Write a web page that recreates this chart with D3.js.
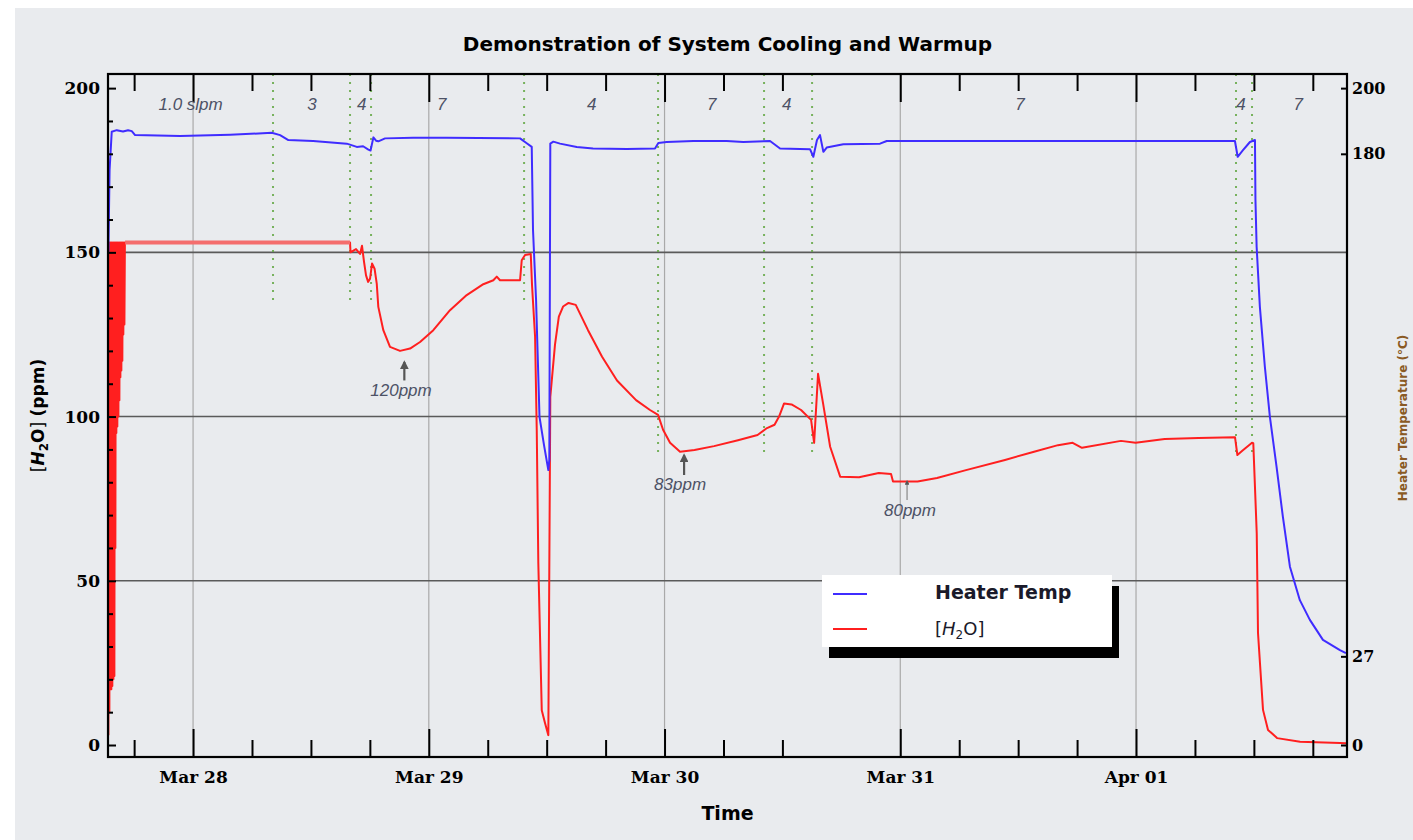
<!DOCTYPE html>
<html>
<head>
<meta charset="utf-8">
<script src="https://cdn.jsdelivr.net/npm/d3@7"></script>
<style>
  body { margin: 0; background: #fff; }
  svg { display: block; }
</style>
</head>
<body>
<svg id="chart"></svg>
<script>
// all times are hours after Mar 28 00:00
var heaterHours = [-8.62, -8.50, -8.28, -7.77, -7.13, -6.62, -6.24, -5.90, -1.32, 3.77, 8.01, 8.86, 9.70, 12.22,
  15.65, 16.67, 17.31, 17.85, 18.07, 18.36, 18.63, 18.86, 19.55, 22.40, 25.83, 33.29, 33.97, 34.48, 34.61,
  34.92, 35.27, 35.73, 36.17, 36.27, 36.37, 36.68, 37.36, 39.06, 40.72, 44.15, 47.03, 47.37, 48.22, 50.93,
  54.33, 56.02, 58.74, 59.76, 62.81, 63.15, 63.52, 63.83, 64.17, 64.51, 66.20, 69.94, 70.62, 88.26, 106.07,
  106.35, 106.89, 107.60, 108.11, 108.16, 108.28, 108.61, 109.12, 109.63, 110.31, 110.95, 111.67, 112.68,
  113.70, 115.03, 116.76, 117.37];
var heaterTemp = [150, 175, 186.7, 187.2, 186.8, 187.2, 186.9, 185.7, 185.4, 185.8, 186.4, 185.7, 184.2, 183.9,
  183.1, 182.1, 182.3, 181.3, 181.0, 185.0, 184.0, 183.8, 184.7, 184.9, 184.9, 184.7, 183.2, 182.1, 156.8,
  135.5, 99.9, 91.3, 83.7, 86.8, 183.1, 183.7, 183.1, 182.1, 181.6, 181.5, 181.6, 183.3, 183.6, 183.9,
  183.9, 183.6, 183.9, 181.6, 181.4, 179.1, 184.2, 185.7, 180.6, 181.9, 182.9, 183.1, 183.9, 183.9, 183.9,
  179.1, 181.1, 183.6, 184.2, 165.9, 151.7, 133.4, 115.1, 99.9, 84.7, 69.5, 54.3, 44.1,
  38.1, 32.0, 28.9, 28.0];

var h2oHours = [-8.62, -8.57, -8.52, -8.47, -8.42, -8.37, -8.32, -8.27, -8.22, -8.16, -8.11, -8.06, -8.01,
  -7.96, -7.91, -7.86, -7.81, -7.76, -7.71, -7.66, -7.60, -7.55, -7.50, -7.45, -7.40, -7.35, -7.30, -7.25,
  -7.20, -7.15, -7.10, -7.04, -6.99, -6.94, -6.92, 15.98,
  16.03, 16.59, 17.00, 17.20, 17.41, 17.61, 17.82, 18.02, 18.22, 18.48, 18.70, 18.86, 19.37, 20.05, 21.07,
  22.09, 23.11, 24.46, 26.16, 27.86, 29.55, 30.57, 30.92, 31.25, 33.29, 33.46, 33.80, 34.38, 34.51, 34.82,
  34.99, 35.15, 35.50, 35.83, 36.17, 36.37, 36.85, 37.24, 37.67, 38.23, 38.96, 40.21, 41.64, 43.16, 45.10,
  46.52, 47.34, 47.85, 48.56, 49.58, 51.05, 53.04, 55.48, 57.47, 58.43, 59.20, 59.66, 60.17, 60.93, 61.90,
  62.92, 63.23, 63.63, 64.14, 64.86, 65.88, 67.80, 69.81, 71.06, 71.26, 73.76, 75.74, 78.69, 82.66, 85.62,
  88.06, 89.55, 90.50, 94.47, 95.96, 98.92, 102.37, 106.08, 106.32, 106.79, 107.81, 107.94, 108.29, 108.42,
  108.93, 109.44, 110.36, 112.70, 116.77, 117.38];
var h2oPpm = [3, 153, 10, 153, 17, 153, 17, 153, 18, 153, 20, 153, 21,
  153, 60, 153, 95, 153, 97, 153, 100, 153, 105, 153, 112, 153, 114, 153,
  117, 153, 125, 153, 128, 153, 153, 153,
  150, 151, 149.5, 152, 147, 143, 141, 142, 146.6, 145, 140.5, 133.4, 126.3, 121.2, 120,
  120.7, 122.7, 126.3, 132.4, 137, 140.3, 141.5, 142.6, 141.5, 141.5, 147.6, 149.2, 149.5, 140, 124.3,
  95.9, 55.4, 10.6, 6.7, 3, 106, 122, 130.4, 133.5, 134.6, 134.0, 126.3, 118.2, 111.0, 105.0,
  102, 100.5, 96, 92, 89.3, 89.8, 91.0, 92.8, 94.4, 96.5, 97.5, 100, 104, 103.7, 102,
  99, 92, 113, 104, 90.8, 81.7, 81.5, 82.8, 82.5, 80.2, 80.2, 81.3, 83.7, 86.8, 89.3,
  91.3, 92, 90.5, 92.6, 92, 93.2, 93.5, 93.7, 88.3, 89.5, 92, 91.9, 64.5, 34.1,
  10.7, 4.6, 2.1, 1.0, 0.6, 0.5];

// stretch where the analyser sat at its top reading
var satHours = [-6.92, 15.98];
var satPpm = [153, 153];

// flow changes (green dotted markers) and the flow in slpm written above
var eventHours = [8.14, 15.98, 18.12, 33.70, 47.34, 58.13, 63.02, 106.18, 107.81];
var eventEnds = [135.5, 135.5, 135.5, 135.5, 87.4, 87.4, 87.4, 87.4, 87.4];
var stageHours = [-0.25, 12.11, 17.17, 25.32, 40.59, 52.81, 60.44, 84.19, 106.69, 112.52];
var stageText = ["1.0 slpm", "3", "4", "7", "4", "7", "4", "7", "4", "7"];

var noteText = ["120ppm", "83ppm", "80ppm"];
var noteHours = [21.17, 49.58, 72.99];
var arrowHours = [21.51, 49.99, 72.69];
var arrowTip = [116.6, 88.3, 80.4];
var arrowTail = [111, 82.2, 74.6];
var noteBase = [106.2, 77.6, 69.7];

var dayTicks = ["2012-03-28", "2012-03-29", "2012-03-30", "2012-03-31", "2012-04-01"];
var dayLabels = ["Mar 28", "Mar 29", "Mar 30", "Mar 31", "Apr 01"];
var skipTicks = ["2012-03-30T18:00Z"];
var leftTicks = [0, 50, 100, 150, 200];
var rightTicks = [0, 27, 180, 200];
var gridPpm = [50, 100, 150];

var base = Date.UTC(2012, 2, 28);
function toTime(h) { return new Date(base + h * 3600000); }

var frame = { left: 108, right: 1347, top: 74, bottom: 757 };
var svg = d3.select("#chart").attr("width", 1413).attr("height", 840);

var x = d3.scaleUtc()
  .domain([toTime(-8.66), toTime(117.48)])
  .range([frame.left, frame.right]);
var y = d3.scaleLinear()
  .domain([-3.65, 204.3])
  .range([frame.bottom, frame.top]);

// page background
svg.append("rect").attr("width", 1413).attr("height", 840).attr("fill", "#fff");
svg.append("rect").attr("x", 15).attr("y", 8).attr("width", 1398).attr("height", 832).attr("fill", "#e9ebee");

var defs = svg.append("defs");
defs.append("clipPath").attr("id", "plot-clip")
  .append("rect")
  .attr("x", frame.left).attr("y", frame.top)
  .attr("width", frame.right - frame.left).attr("height", frame.bottom - frame.top);
defs.append("marker")
  .attr("id", "arrow")
  .attr("viewBox", "0 0 10 10")
  .attr("refX", 8).attr("refY", 5)
  .attr("markerWidth", 4).attr("markerHeight", 4)
  .attr("orient", "auto")
  .append("path").attr("d", "M0,0L10,5L0,10z").attr("fill", "#555");

var days = dayTicks.map(function (d) { return new Date(d + "T00:00Z"); });

// grid
svg.append("g").selectAll("line")
  .data(days).enter().append("line")
  .attr("x1", function (d) { return x(d); }).attr("x2", function (d) { return x(d); })
  .attr("y1", frame.top).attr("y2", frame.bottom)
  .attr("stroke", "#a9a9a9").attr("stroke-width", 1.2);
svg.append("g").selectAll("line")
  .data(gridPpm).enter().append("line")
  .attr("x1", frame.left).attr("x2", frame.right)
  .attr("y1", function (d) { return y(d); }).attr("y2", function (d) { return y(d); })
  .attr("stroke", "#5a5a5a").attr("stroke-width", 1.6);

// flow change markers
svg.append("g").selectAll("line")
  .data(d3.zip(eventHours, eventEnds)).enter().append("line")
  .attr("x1", function (d) { return x(toTime(d[0])); }).attr("x2", function (d) { return x(toTime(d[0])); })
  .attr("y1", frame.top).attr("y2", function (d) { return y(d[1]); })
  .attr("stroke", "#64a844").attr("stroke-width", 2)
  .attr("stroke-dasharray", "2,6").attr("opacity", 0.85);

var line = d3.line()
  .x(function (d) { return x(toTime(d[0])); })
  .y(function (d) { return y(d[1]); });

var plot = svg.append("g").attr("clip-path", "url(#plot-clip)");
plot.append("path")
  .attr("d", line(d3.zip(h2oHours, h2oPpm)))
  .attr("fill", "none").attr("stroke", "#ff1f1f").attr("stroke-width", 2)
  .attr("stroke-linejoin", "round");
plot.append("path")
  .attr("d", line(d3.zip(satHours, satPpm)))
  .attr("fill", "none").attr("stroke", "#f46d6d").attr("stroke-width", 4);
plot.append("path")
  .attr("d", line(d3.zip(heaterHours, heaterTemp)))
  .attr("fill", "none").attr("stroke", "#3f2cff").attr("stroke-width", 2)
  .attr("stroke-linejoin", "round");

// frame
svg.append("rect")
  .attr("x", frame.left).attr("y", frame.top)
  .attr("width", frame.right - frame.left).attr("height", frame.bottom - frame.top)
  .attr("fill", "none").attr("stroke", "#000").attr("stroke-width", 2.2);

// time axes, ticks point inward
var quarters = d3.utcHour.every(6).range(x.domain()[0], x.domain()[1]).filter(function (d) {
  return d.getUTCHours() !== 0 && skipTicks.indexOf(d3.utcFormat("%Y-%m-%dT%H:%MZ")(d)) < 0;
});

function styleAxis(g) {
  g.select(".domain").remove();
  g.selectAll(".tick line").attr("stroke", "#000").attr("stroke-width", 2);
}

svg.append("g").attr("transform", "translate(0," + frame.bottom + ")")
  .call(d3.axisBottom(x).tickValues(quarters).tickSizeInner(-17).tickSizeOuter(0).tickFormat(""))
  .call(styleAxis);
svg.append("g").attr("transform", "translate(0," + frame.bottom + ")")
  .call(d3.axisBottom(x).tickValues(days).tickSizeInner(-28).tickSizeOuter(0).tickPadding(14)
    .tickFormat(function (d, i) { return dayLabels[i]; }))
  .call(styleAxis)
  .attr("font-family", "DejaVu Serif").attr("font-weight", "bold").attr("font-size", 17);
svg.append("g").attr("transform", "translate(0," + frame.top + ")")
  .call(d3.axisTop(x).tickValues(quarters).tickSizeInner(-17).tickSizeOuter(0).tickFormat(""))
  .call(styleAxis);
svg.append("g").attr("transform", "translate(0," + frame.top + ")")
  .call(d3.axisTop(x).tickValues(days).tickSizeInner(-28).tickSizeOuter(0).tickFormat(""))
  .call(styleAxis);

// ppm axis
svg.append("g").attr("transform", "translate(" + frame.left + ",0)")
  .call(d3.axisLeft(y).tickValues(d3.range(10, 200, 10).filter(function (d) { return d % 50; }))
    .tickSizeInner(-5).tickSizeOuter(0).tickFormat(""))
  .call(styleAxis);
svg.append("g").attr("transform", "translate(" + frame.left + ",0)")
  .call(d3.axisLeft(y).tickValues(leftTicks).tickSizeInner(-8).tickSizeOuter(0).tickPadding(8))
  .call(styleAxis)
  .attr("font-family", "DejaVu Serif").attr("font-weight", "bold").attr("font-size", 17);

// heater temperature axis
svg.append("g").attr("transform", "translate(" + frame.right + ",0)")
  .call(d3.axisRight(y).tickValues(rightTicks).tickSizeInner(-6).tickSizeOuter(0).tickPadding(5))
  .call(styleAxis)
  .attr("font-family", "DejaVu Serif").attr("font-weight", "bold").attr("font-size", 16);

// titles
svg.append("text")
  .attr("x", (frame.left + frame.right) / 2).attr("y", 51)
  .attr("text-anchor", "middle")
  .attr("font-family", "DejaVu Sans").attr("font-weight", "bold").attr("font-size", 20)
  .text("Demonstration of System Cooling and Warmup");
svg.append("text")
  .attr("x", (frame.left + frame.right) / 2).attr("y", 820)
  .attr("text-anchor", "middle")
  .attr("font-family", "DejaVu Sans").attr("font-weight", "bold").attr("font-size", 19)
  .text("Time");

var yLabel = svg.append("text")
  .attr("transform", "translate(44," + ((frame.top + frame.bottom) / 2) + ") rotate(-90)")
  .attr("text-anchor", "middle")
  .attr("font-family", "DejaVu Sans").attr("font-weight", "bold").attr("font-size", 17);
yLabel.append("tspan").attr("font-weight", "normal").text("[");
yLabel.append("tspan").attr("font-style", "italic").text("H");
yLabel.append("tspan").attr("font-size", 12).attr("dy", 4).text("2");
yLabel.append("tspan").attr("dy", -4).text("O");
yLabel.append("tspan").attr("font-weight", "normal").text("] ");
yLabel.append("tspan").text("(ppm)");

svg.append("text")
  .attr("transform", "translate(1407,418) rotate(-90)")
  .attr("text-anchor", "middle")
  .attr("font-family", "DejaVu Sans").attr("font-weight", "bold").attr("font-size", 12)
  .attr("fill", "#8a5a24")
  .text("Heater Temperature (°C)");

// flow labels along the top
svg.append("g").selectAll("text")
  .data(d3.zip(stageHours, stageText)).enter().append("text")
  .attr("x", function (d) { return x(toTime(d[0])); })
  .attr("y", 110)
  .attr("text-anchor", "middle")
  .attr("font-family", "Liberation Sans").attr("font-style", "italic").attr("font-size", 17)
  .attr("fill", "#4d5266")
  .text(function (d) { return d[1]; });

// minimum annotations
noteText.forEach(function (t, i) {
  svg.append("line")
    .attr("x1", x(toTime(arrowHours[i]))).attr("x2", x(toTime(arrowHours[i])))
    .attr("y1", y(arrowTail[i])).attr("y2", y(arrowTip[i]))
    .attr("stroke", i === 2 ? "#888" : "#555").attr("stroke-width", i === 2 ? 1.2 : 2.2)
    .attr("marker-end", "url(#arrow)");
  svg.append("text")
    .attr("x", x(toTime(noteHours[i]))).attr("y", y(noteBase[i]))
    .attr("text-anchor", "middle")
    .attr("font-family", "Liberation Sans").attr("font-style", "italic").attr("font-size", 17)
    .attr("fill", "#4d5266")
    .text(t);
});

// legend
var legend = svg.append("g").attr("transform", "translate(822,575)");
legend.append("rect").attr("x", 7).attr("y", 11).attr("width", 290).attr("height", 72).attr("fill", "#000");
legend.append("rect").attr("width", 290).attr("height", 72).attr("fill", "#fff");
legend.append("line").attr("x1", 11).attr("x2", 45).attr("y1", 19).attr("y2", 19)
  .attr("stroke", "#3f2cff").attr("stroke-width", 2);
legend.append("line").attr("x1", 11).attr("x2", 45).attr("y1", 54).attr("y2", 54)
  .attr("stroke", "#ff1f1f").attr("stroke-width", 2);
legend.append("text").attr("x", 113).attr("y", 24)
  .attr("font-family", "DejaVu Sans").attr("font-weight", "bold").attr("font-size", 19)
  .attr("fill", "#1a1a2a")
  .text("Heater Temp");
var lt = legend.append("text").attr("x", 113).attr("y", 60)
  .attr("font-family", "DejaVu Sans").attr("font-size", 18).attr("fill", "#1a1a2a");
lt.append("tspan").text("[");
lt.append("tspan").attr("font-style", "italic").text("H");
lt.append("tspan").attr("font-size", 12).attr("dy", 4).text("2");
lt.append("tspan").attr("dy", -4).text("O]");
</script>
</body>
</html>
